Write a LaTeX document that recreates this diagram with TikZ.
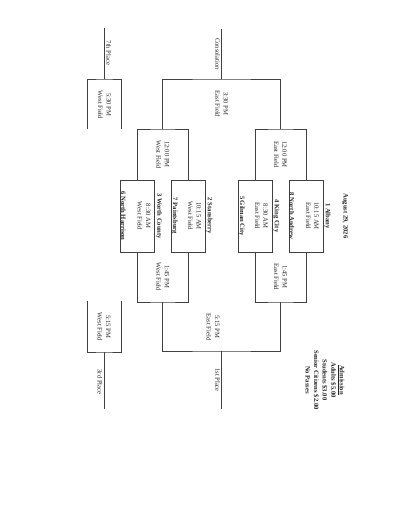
\documentclass[tikz,border=0pt]{standalone}
\usepackage{fontspec}
\setmainfont{Liberation Serif}
\usetikzlibrary{calc}
\newcommand\fsz{\fontsize{6.6}{8.3}\selectfont}
\newcommand\fsa{\fontsize{6.6}{8.6}\selectfont}
\begin{document}
\begin{tikzpicture}[x=1pt,y=-1pt,
  ln/.style={draw=black!75, line width=0.7pt},
  box/.style={ln, minimum width=34pt, minimum height=72pt, inner sep=0pt},
  txt/.style={rotate=-90, align=center, font=\fsz, text=black!85, inner sep=0.8pt},
  team/.style={txt, font=\fsz\bfseries},
  lbl/.style={txt, inner sep=1.5pt}]
\useasboundingbox[fill=white] (0,0) rectangle (397,515);

% first-round boxes
\node[box] (D) at (137.5,216) {};
\node[box] (E) at (188,216) {};
\node[box] (B) at (255,216) {};
\node[box] (A) at (306,216) {};

\node[team, anchor=south] (A1) at (A.east) {1 Albany};
\node[team, anchor=south] (A8) at (A.west) {8 North Andrew};
\node[txt] (At) at ($(A.center)+(6.5,0)$) {10:15 AM\\East Field};

\node[team, anchor=south] (B4) at (B.east) {4 King City};
\node[team, anchor=south] (B5) at (B.west) {5 Gilman City};
\node[txt] (Bt) at ($(B.center)+(6.5,0)$) {8:30 AM\\East Field};

\node[team, anchor=south] (E2) at (E.east) {2 Stansberry};
\node[team, anchor=south] (E7) at (E.west) {7 Paintsburg};
\node[txt] (Et) at ($(E.center)+(6.5,0)$) {10:15 AM\\West Field};

\node[team, anchor=south] (D3) at (D.east) {3 Worth County};
\node[team, anchor=south] (D6) at (D.west) {6 North Harrison};
\node[txt] (Dt) at ($(D.center)+(6.5,0)$) {8:30 AM\\West Field};

% consolation side (top)
\coordinate (sW) at (162.75,129);
\coordinate (sE) at (280.5,129);
\draw[ln] (D.north) |- (sW) -| (E.north);
\draw[ln] (B.north) |- (sE) -| (A.north);
\coordinate (cons) at (221.6,79);
\coordinate (consT) at (221.6,29);
\draw[ln] (sW) |- (cons) -| (sE);
\draw[ln] (cons) -- (consT);

% championship side (bottom)
\coordinate (qW) at (162.75,302);
\coordinate (qE) at (280.5,302);
\draw[ln] (D.south) |- (qW) -| (E.south);
\draw[ln] (B.south) |- (qE) -| (A.south);
\coordinate (fin) at (221.6,351);
\coordinate (finB) at (221.6,409);
\draw[ln] (qW) |- (fin) -| (qE);
\draw[ln] (fin) -- (finB);

% 7th place
\coordinate (p7) at (104.5,79);
\coordinate (p7T) at (104.5,28);
\coordinate (p7L) at (87.5,129);
\coordinate (p7R) at (121.5,129);
\draw[ln] (p7L) |- (p7) -| (p7R);
\draw[ln] (p7) -- (p7T);

% 3rd place
\coordinate (p3) at (104,352);
\coordinate (p3B) at (104,409);
\coordinate (p3L) at (87,301);
\coordinate (p3R) at (121,301);
\draw[ln] (p3L) |- (p3) -| (p3R);
\draw[ln] (p3) -- (p3B);

% game labels
\node[txt] (g330) at (221.6,104) {3:30 PM\\East Field};
\node[txt] (g12W) at (162.75,154.5) {12:00 PM\\West Field};
\node[txt] (g12E) at (280.5,154.5) {12:00 PM\\East Field};
\node[txt] (g145W) at (162.75,277) {1:45 PM\\West Field};
\node[txt] (g145E) at (280.5,277) {1:45 PM\\East Field};
\node[txt] (g515E) at (213,327) {5:15 PM\\East Field};
\node[txt] (g530W) at (104.5,105) {5:30 PM\\West Field};
\node[txt] (g515W) at (104,327) {5:15 PM\\West Field};

\node[lbl, anchor=south] (l7) at (104.5,53) {7th Place};
\node[lbl, anchor=north] (lc) at (221.6,54) {Consolation};
\node[lbl, anchor=north] (l1) at (221.6,380) {1st Place};
\node[lbl, anchor=north] (l3) at (104,382) {3rd Place};

% title and admission
\node[team] (title) at (345,216) {August 29, 2026};
\node[txt, font=\fsa\bfseries] (adm) at (325,380) {\underline{Admission}\\Adults \$5.00\\Students \$3.00\\Senior Citizens \$2.00\\No Passes};
\end{tikzpicture}
\end{document}
